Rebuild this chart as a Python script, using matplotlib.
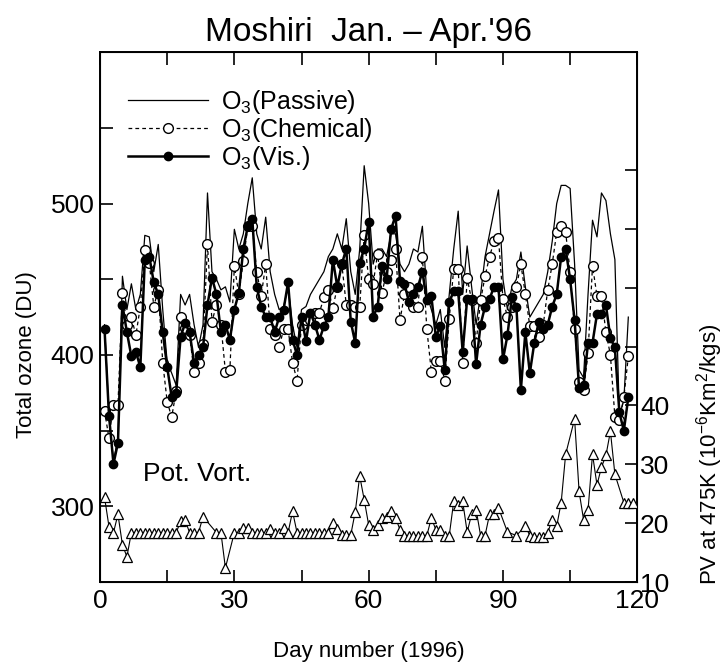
import numpy as np
import matplotlib.pyplot as plt
from matplotlib.ticker import MultipleLocator, FixedLocator

plt.rcParams['font.family'] = ['Liberation Sans', 'DejaVu Sans']
plt.rcParams['mathtext.fontset'] = 'custom'
plt.rcParams['mathtext.rm'] = 'Liberation Sans'

# Day numbers for the ozone series
days = list(range(1, 119))

# Total ozone (DU)
o3_passive = [420, 360, 330, 345, 452, 430, 447, 430, 440, 479,
              478, 455, 473, 430, 395, 388, 380, 440, 433, 440,
              420, 405, 420, 507, 455, 450, 443, 445, 435, 483,
              470, 480, 500, 517, 480, 470, 491, 455, 440, 430,
              432, 445, 420, 405, 430, 432, 440, 445, 450, 455,
              465, 470, 480, 470, 490, 455, 440, 470, 525, 500,
              460, 470, 470, 465, 480, 480, 460, 455, 460, 470,
              468, 485, 440, 430, 420, 430, 405, 440, 470, 495,
              440, 472, 445, 420, 440, 465, 480, 495, 509, 450,
              430, 445, 450, 468, 445, 425, 430, 435, 440, 455,
              475, 500, 512, 512, 510, 460, 390, 385, 440, 489,
              478, 507, 502, 480, 463, 360, 370, 425]

o3_chemical = [363, 345, 367, 367, 441, 420, 425, 413, 432, 469,
               461, 432, 443, 395, 369, 359, 376, 425, 418, 413,
               389, 395, 407, 473, 422, 433, 420, 389, 390, 459,
               440, 462, 485, 485, 455, 439, 460, 417, 413, 405,
               417, 417, 395, 383, 420, 423, 423, 428, 428, 438,
               443, 431, 445, 460, 433, 433, 432, 432, 479, 450,
               447, 467, 441, 455, 463, 470, 423, 440, 445, 432,
               432, 465, 417, 389, 396, 396, 383, 424, 457, 457,
               395, 451, 436, 408, 436, 452, 465, 475, 477, 437,
               425, 432, 445, 460, 440, 419, 419, 412, 420, 443,
               460, 481, 485, 481, 455, 417, 382, 377, 401, 459,
               439, 439, 415, 400, 359, 357, 372, 399]

o3_visual = [417, 360, 328, 342, 433, 415, 399, 402, 392, 463,
             465, 448, 440, 415, 392, 372, 375, 412, 421, 415,
             395, 400, 405, 433, 451, 440, 415, 420, 410, 430,
             441, 470, 485, 490, 445, 432, 425, 425, 415, 425,
             430, 448, 410, 400, 425, 409, 428, 420, 410, 419,
             425, 463, 445, 460, 470, 422, 408, 461, 470, 488,
             425, 432, 459, 450, 483, 492, 449, 447, 435, 440,
             445, 455, 436, 439, 412, 419, 390, 435, 442, 442,
             402, 437, 437, 394, 420, 432, 437, 445, 445, 397,
             413, 438, 432, 377, 415, 388, 408, 422, 417, 420,
             432, 440, 465, 470, 450, 423, 378, 380, 408, 408,
             427, 427, 433, 411, 405, 362, 350, 372]

# Potential vorticity at 475K (10^-6 K m^2 / kg s)
pv_days = [1, 2, 3, 4, 5, 6, 7, 8, 9, 10,
           11, 12, 13, 14, 15, 16, 17, 18, 19, 20,
           21, 22, 23, 26, 27, 28, 30, 31, 32, 33,
           34, 35, 36, 37, 38, 39, 40, 41, 42, 43,
           44, 45, 46, 47, 48, 49, 50, 51, 52, 53,
           54, 55, 56, 57, 58, 59, 60, 61, 62, 63,
           64, 65, 66, 67, 68, 69, 70, 71, 72, 73,
           74, 75, 76, 77, 78, 79, 80, 81, 82, 83,
           84, 85, 86, 87, 88, 89, 91, 93, 95, 96,
           97, 98, 99, 100, 101, 102, 103, 104, 106, 107,
           108, 109, 110, 111, 112, 113, 114, 115, 117, 118,
           119]
pv = [24.4, 19.4, 18.4, 21.5, 16.3, 14.3, 18.4, 18.4, 18.4, 18.4,
      18.4, 18.4, 18.4, 18.4, 18.4, 18.4, 18.4, 20.3, 20.5, 18.4,
      18.4, 18.4, 21.1, 18.4, 18.4, 12.4, 18.4, 18.4, 19.2, 19.2,
      18.4, 18.4, 18.4, 18.4, 19.0, 18.4, 18.4, 19.2, 18.4, 22.0,
      18.4, 18.4, 18.4, 18.4, 18.4, 18.4, 18.4, 18.4, 20.1, 19.0,
      18.0, 18.0, 18.0, 21.9, 28.0, 24.0, 19.7, 18.9, 19.7, 20.9,
      21.1, 22.0, 20.9, 18.9, 17.9, 17.9, 17.9, 17.9, 17.9, 17.9,
      20.9, 18.9, 18.9, 17.9, 17.9, 23.7, 23.0, 23.7, 18.5, 21.5,
      22.3, 17.9, 17.9, 21.5, 21.5, 22.6, 18.5, 17.9, 19.5, 17.9,
      17.6, 17.6, 17.6, 18.4, 20.6, 19.5, 23.5, 31.7, 37.7, 25.4,
      20.6, 22.2, 31.7, 26.5, 29.5, 31.5, 35.6, 28.3, 23.5, 23.5,
      23.5]

fig = plt.figure(figsize=(7.25, 6.69), dpi=100, facecolor='white')
ax = fig.add_axes([0.138, 0.130, 0.741, 0.792])

ax.plot(days, o3_passive, color='black', lw=0.9, label='O$_3$(Passive)')
ax.plot(days, o3_chemical, color='black', lw=0.9, ls=(0, (3, 2.5)),
        marker='o', ms=7, mfc='white', mec='black', mew=1.0,
        label='O$_3$(Chemical)')
ax.plot(days, o3_visual, color='black', lw=1.8, marker='o', ms=6,
        mfc='black', mec='black', label='O$_3$(Vis.)')

ax.set_xlim(0, 120)
ax.set_ylim(250, 600)
ax.xaxis.set_major_locator(MultipleLocator(30))
ax.xaxis.set_minor_locator(MultipleLocator(15))
ax.yaxis.set_major_locator(FixedLocator([300, 400, 500]))
ax.yaxis.set_minor_locator(FixedLocator([350, 450, 550]))
ax.tick_params(which='both', direction='in', top=True, labelsize=19)
ax.tick_params(which='major', length=9, width=1.2)
ax.tick_params(which='minor', length=9, width=1.2)
ax.tick_params(axis='x', pad=5)
ax.tick_params(axis='y', pad=4)
for s in ax.spines.values():
    s.set_linewidth(1.4)

ax.set_xlabel('Day number (1996)', fontsize=16)
ax.xaxis.set_label_coords(0.5, -0.112)
ax.set_ylabel('Total ozone (DU)', fontsize=16)
ax.yaxis.set_label_coords(-0.118, 0.43)
ax.set_title("Moshiri  Jan. \u2013 Apr.'96", fontsize=24, pad=8)

ax.legend(loc='upper left', frameon=False, fontsize=18, handlelength=3.2,
          handletextpad=0.5, labelspacing=0.0, borderaxespad=0.3,
          bbox_to_anchor=(0.02, 0.965))

ax.text(9.5, 317, 'Pot. Vort.', fontsize=19)

# PV on a second axis
ax2 = ax.twinx()
ax2.plot(pv_days, pv, color='black', lw=0.8, marker='^', ms=7,
         mfc='white', mec='black', mew=0.9)
ax2.set_ylim(10, 100)
ax2.set_yticks(range(10, 90, 10))
ax2.set_yticklabels(['10', '20', '30', '40', '', '', '', ''])
ax2.tick_params(direction='in', length=9, width=1.2, labelsize=19, pad=2)
ax2.set_ylabel('PV at 475K (10$^{-6}$Km$^2$/kgs)', fontsize=16)
ax2.yaxis.set_label_coords(1.105, 0.24)

fig.savefig('out.png', dpi=100, facecolor='white')
